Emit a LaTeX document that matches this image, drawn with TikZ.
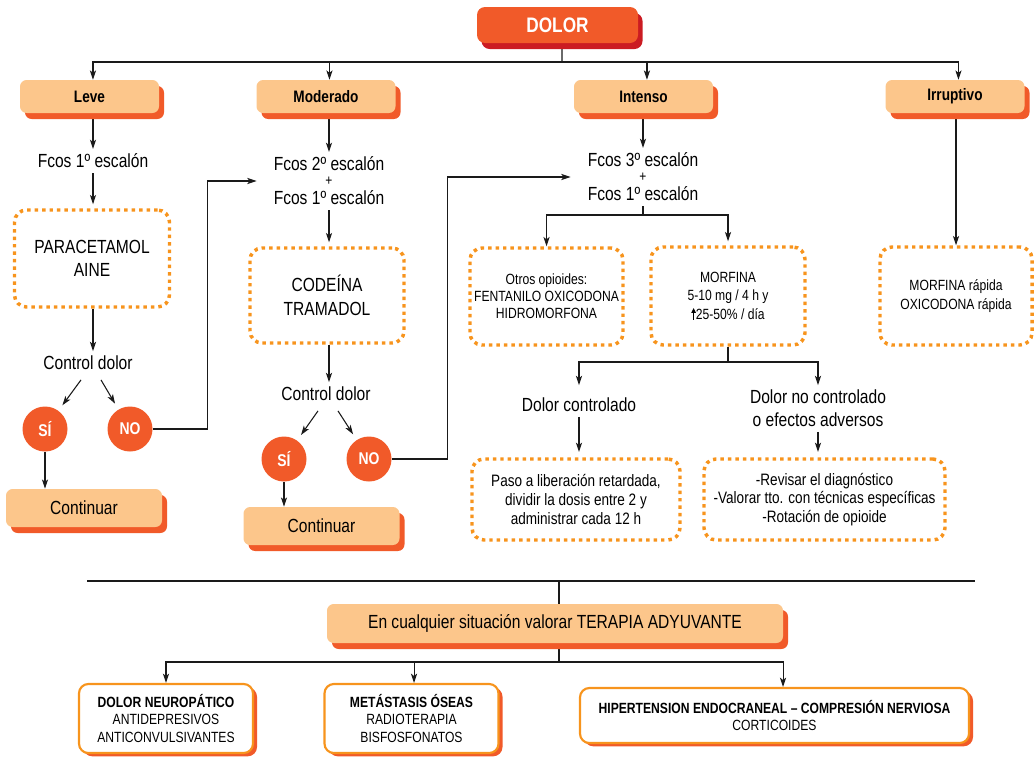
\documentclass[tikz,border=0pt]{standalone}
\usepackage{fontspec}
\setmainfont{Liberation Sans}[FakeStretch=0.82]
\usetikzlibrary{arrows.meta,shadows,backgrounds,fit,calc}
\definecolor{lorange}{HTML}{FCC68B}
\definecolor{ored}{HTML}{F15A29}
\definecolor{dorange}{HTML}{F7941D}
\definecolor{dred}{HTML}{CB1B22}
\definecolor{lnc}{HTML}{1A1A1A}
\newcommand\fsmain{\fontsize{14.25pt}{17.5pt}\selectfont}
\newcommand\fsmid{\fontsize{12.4pt}{13.9pt}\selectfont}
\newcommand\fssmall{\fontsize{11.1pt}{13pt}\selectfont}
\newcommand\uparr{\tikz[baseline=0pt]\draw[line width=0.6pt,-{Triangle[length=3.6pt,width=3.4pt]}] (0pt,0pt) -- (0pt,8.6pt);}
\tikzset{
 ln/.style={draw=lnc, line width=0.8pt},
 arr/.style={ln, -{Stealth[length=7pt,width=4.6pt,inset=1.8pt]}},
 txt/.style={font=\fsmain, align=center, inner sep=3.5pt},
 pluss/.style={font=\fontsize{11pt}{11pt}\selectfont, inner sep=0pt},
 hdr/.style={fill=lorange, rounded corners=5pt, minimum width=104.25pt, minimum height=24.75pt, inner sep=0pt, font=\fontsize{12.45pt}{14pt}\selectfont\bfseries, drop shadow={shadow xshift=3.75pt, shadow yshift=-4.5pt, fill=ored, opacity=1}},
 contbox/.style={hdr, minimum width=117pt, minimum height=28.5pt, font=\fsmain},
 dolorbox/.style={fill=ored, rounded corners=6pt, minimum width=120.75pt, minimum height=27pt, inner sep=0pt, text=white, font=\fontsize{15.75pt}{17pt}\selectfont\bfseries, drop shadow={shadow xshift=3.4pt, shadow yshift=-4.5pt, fill=dred, opacity=1}},
 circ/.style={circle, fill=ored, minimum size=33.75pt, inner sep=0pt, text=white, font=\fontsize{12.75pt}{14pt}\selectfont\bfseries},
 dbox/.style={draw=dorange, line width=2.6pt, dash pattern=on 2.6pt off 3pt, rounded corners=9pt, align=center, inner sep=0pt},
 botbox/.style={fill=white, draw=dorange, line width=1.6pt, rounded corners=7pt, align=center, inner sep=0pt, font=\fssmall, drop shadow={shadow xshift=3pt, shadow yshift=-2.5pt, fill=ored, opacity=1}},
}
\begin{document}
\begin{tikzpicture}[x=0.75pt,y=-0.75pt]
\useasboundingbox (0,0) rectangle (1034,757);

% top
\node[dolorbox] (dolor) at (557.5,25) {DOLOR};
\node[hdr] (leve) at (89.5,96.5) {Leve};
\node[hdr] (mod) at (326,96.5) {Moderado};
\node[hdr] (int) at (643.5,96.5) {Intenso};
\node[hdr] (irr) at (955,96.5) {Irruptivo};
\coordinate (hb) at (562,62);

% Leve column
\node[txt] (f1) at (93,161) {Fcos 1º escalón};
\node[dbox, font=\fsmain, minimum width=116.25pt, minimum height=72.75pt] (parac) at (92,258.5) {PARACETAMOL\\AINE};
\node[txt] (ctl1) at (88,363) {Control dolor};
\node[circ] (si1) at (45,429) {SÍ};
\node[circ] (no1) at (130,429) {NO};
\node[contbox] (cont1) at (84,508) {Continuar};

% Moderado column
\node[txt] (f2a) at (329,164) {Fcos 2º escalón};
\node[pluss] (plus2) at (329,181) {+};
\node[txt] (f2b) at (329,198) {Fcos 1º escalón};
\node[fit=(f2a)(f2b), inner sep=0pt] (f2) {};
\node[dbox, font=\fsmain, minimum width=115.5pt, minimum height=71.25pt] (code) at (327,295.5) {CODEÍNA\\TRAMADOL};
\node[txt] (ctl2) at (326,394) {Control dolor};
\node[circ] (si2) at (284,459) {SÍ};
\node[circ] (no2) at (369,459) {NO};
\node[contbox] (cont2) at (321.5,526) {Continuar};

% Intenso column
\node[txt] (f3a) at (643,160) {Fcos 3º escalón};
\node[pluss] (plus3) at (643,177) {+};
\node[txt] (f3b) at (643,194) {Fcos 1º escalón};
\node[fit=(f3a)(f3b), inner sep=0pt] (f3) {};
\coordinate (s3) at (643,215);
\node[dbox, font=\fontsize{11.1pt}{12.75pt}\selectfont, minimum width=114.75pt, minimum height=72.75pt] (otros) at (546.5,296.5) {Otros opioides:\\FENTANILO OXICODONA\\HIDROMORFONA};
\node[dbox, font=\fontsize{11.1pt}{13.9pt}\selectfont, minimum width=115.5pt, minimum height=73.5pt] (morf) at (728,296) {MORFINA\\5-10 mg / 4 h y\\\uparr25-50\% / día};
\coordinate (s4) at (728,362);
\node[txt] (dctl) at (579,405) {Dolor controlado};
\node[txt, font=\fontsize{14.25pt}{17.25pt}\selectfont] (dnc) at (818,408.5) {Dolor no controlado\\o efectos adversos};
\node[dbox, font=\fsmid, minimum width=156pt, minimum height=60.75pt] (paso) at (576,499.5) {Paso a liberación retardada,\\dividir la dosis entre 2 y\\administrar cada 12 h};
\node[dbox, font=\fsmid, minimum width=180.75pt, minimum height=60.75pt] (revis) at (824.5,499.5) {-Revisar el diagnóstico\\-Valorar tto. con técnicas específicas\\-Rotación de opioide};

% Irruptivo column
\node[dbox, font=\fontsize{11.1pt}{14.25pt}\selectfont, minimum width=114pt, minimum height=73.5pt] (irrb) at (956,296) {MORFINA rápida\\OXICODONA rápida};

% bottom
\coordinate (sepL) at (87,581);
\coordinate (sepR) at (975,581);
\node[contbox, minimum width=342pt, minimum height=29.25pt] (ter) at (555,623.5) {En cualquier situación valorar TERAPIA ADYUVANTE};
\coordinate (t1) at (559,662);
\node[botbox, minimum width=130.5pt, minimum height=51.75pt] (b1) at (166,718.5) {\textbf{DOLOR NEUROPÁTICO}\\ANTIDEPRESIVOS\\ANTICONVULSIVANTES};
\node[botbox, minimum width=130.5pt, minimum height=51.75pt] (b2) at (411.5,718.5) {\textbf{METÁSTASIS ÓSEAS}\\RADIOTERAPIA\\BISFOSFONATOS};
\node[botbox, minimum width=291.75pt, minimum height=41.25pt] (b3) at (774.5,715.5) {\textbf{HIPERTENSION ENDOCRANEAL – COMPRESIÓN NERVIOSA}\\CORTICOIDES};

\begin{scope}[on background layer]
% top connectors
\draw[ln] ([xshift=3.4pt]dolor.south) -- (hb);
\draw[arr] (hb) -| ([xshift=2.6pt]leve.north);
\draw[arr] (hb) -| ([xshift=2.6pt]mod.north);
\draw[arr] (hb) -| ([xshift=2.6pt]int.north);
\draw[arr] (hb) -| ([xshift=2.6pt]irr.north);
% Leve
\draw[arr] (leve.south -| f1) -- (f1);
\draw[arr, shorten >=3pt] (f1) -- (f1 |- parac.north);
\draw[arr] (parac.south -| f1) -- (f1 |- ctl1.north);
\draw[arr, shorten >=5pt] ($(ctl1.south)+(-7,5)$) -- (si1);
\draw[arr, shorten >=5pt] ($(ctl1.south)+(13,5)$) -- (no1);
\draw[arr] (si1) -- (si1 |- cont1.north);
\draw[arr, shorten >=9pt] (no1.east) -- ++(55,0) |- (f2.west);
% Moderado
\draw[arr] (mod.south -| f2a) -- (f2a);
\draw[arr, shorten >=3pt] (f2b) -- (f2b |- code.north);
\draw[arr] (code.south -| f2b) -- (f2b |- ctl2.north);
\draw[arr, shorten >=5pt] ($(ctl2.south)+(-8,5)$) -- (si2);
\draw[arr, shorten >=5pt] ($(ctl2.south)+(12,5)$) -- (no2);
\draw[arr] (si2) -- (si2 |- cont2.north);
\draw[arr, shorten >=9pt] (no2.east) -- ++(55.5,0) |- (f3.west);
% Intenso
\draw[arr] (int.south -| f3a) -- (f3a);
\draw[ln] (f3b) -- (s3);
\draw[arr] (s3) -| (otros.north);
\draw[arr, shorten >=3pt] (s3) -| (morf.north);
\draw[ln] (morf) -- (s4);
\draw[arr, shorten >=6pt] (s4) -| (dctl.north);
\draw[arr] (s4) -| (dnc.north);
\draw[arr, shorten >=4pt] (dctl) -- (dctl |- paso.north);
\draw[arr, shorten >=4pt] (dnc) -- (dnc |- revis.north);
% Irruptivo
\draw[arr] (irr.south -| irrb) -- (irrb);
% bottom
\draw[ln] (sepL) -- (sepR);
\draw[ln] ([xshift=3pt]ter.north |- sepL) -- ([xshift=3pt]ter.north);
\draw[ln] ([xshift=3pt]ter.south) -- (t1);
\draw[arr] (t1) -| (b1.north);
\draw[arr] (t1) -| ([xshift=1.9pt]b2.north);
\draw[arr] (t1) -| ([xshift=6.4pt]b3.north);
\end{scope}
\end{tikzpicture}
\end{document}
